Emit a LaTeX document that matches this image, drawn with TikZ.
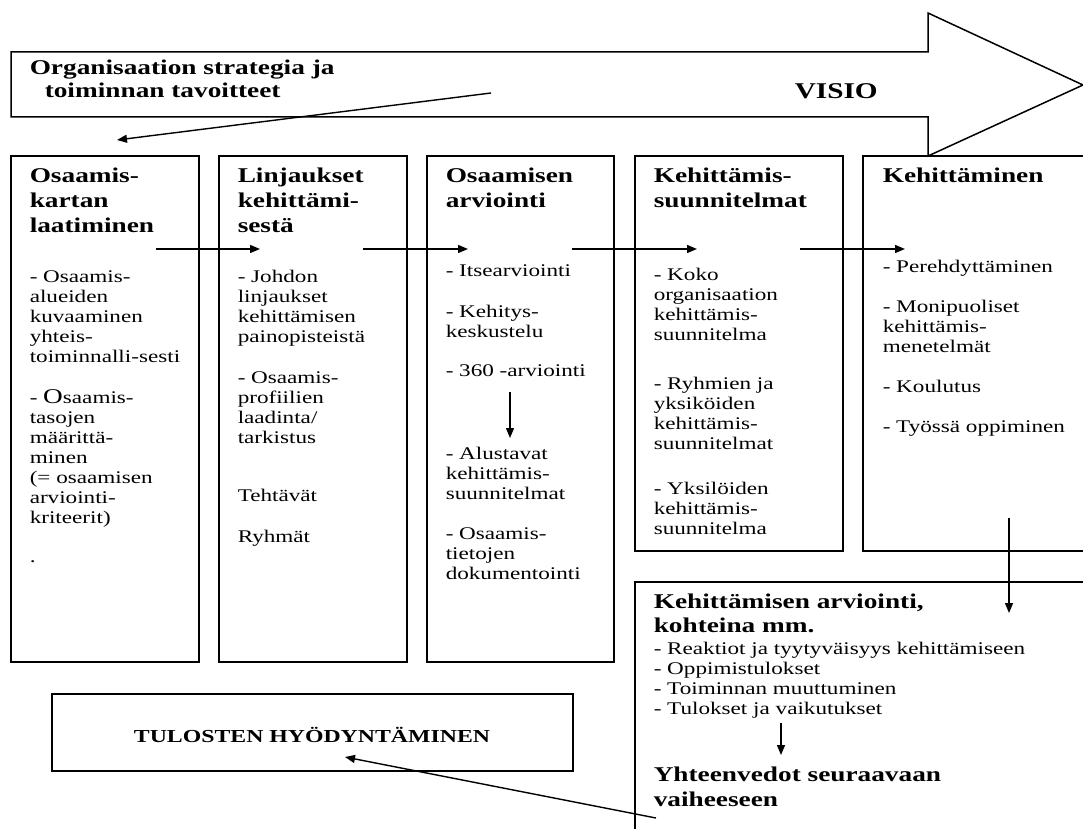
\documentclass[tikz,border=0pt]{standalone}
\usepackage{fontspec}
\setmainfont{Liberation Serif}[FakeStretch=1.3]
\usetikzlibrary{arrows.meta}
\newcommand\bodyf{\fontsize{17.8}{20}\selectfont}
\newcommand\headf{\fontsize{21}{25}\selectfont\bfseries}
\newcommand\headg{\fontsize{21}{24}\selectfont\bfseries}
\newcommand\fstrut{\rule{0pt}{15pt}}
\newcommand\hstrut{\rule{0pt}{20pt}}
\begin{document}
\begin{tikzpicture}[x=1pt,y=-1pt,line width=1.5pt,
  boxnode/.style={draw,anchor=north west,inner sep=0pt,outer sep=0pt},
  hd/.style={anchor=north west,inner sep=0pt,align=left,font=\headf},
  hdg/.style={anchor=north west,inner sep=0pt,align=left,font=\headg},
  bd/.style={anchor=north west,inner sep=0pt,align=left,font=\bodyf},
  arr/.style={-{Triangle[length=10pt,width=8pt]},line width=1.4pt}]
\useasboundingbox (0,0) rectangle (1083,829);
% big arrow VISIO
\draw (11,52) -- (928,52) -- (928,13) -- (1083,85) -- (928,156) -- (928,117) -- (11,117) -- cycle;
\node[anchor=base west,inner sep=0pt,font=\fontsize{21}{23}\selectfont\bfseries] (org1) at (29,75) {Organisaation strategia ja};
\node[anchor=base west,inner sep=0pt,font=\fontsize{21}{23}\selectfont\bfseries] (org2) at (44,98) {toiminnan tavoitteet};
\node[anchor=base west,inner sep=0pt,font=\fontsize{22.5}{25}\selectfont\bfseries] (visio) at (794,99) {VISIO};
% boxes
\node[boxnode,minimum width=188pt,minimum height=506pt] (box1) at (11,156) {};
\node[boxnode,minimum width=188pt,minimum height=506pt] (box2) at (219,156) {};
\node[boxnode,minimum width=187pt,minimum height=506pt] (box3) at (427,156) {};
\node[boxnode,minimum width=208pt,minimum height=395pt] (box4) at (635,156) {};
\draw (1083,156) -- (863,156) -- (863,551) -- (1083,551);
\draw (1083,582) -- (635,582) -- (635,829);
\node[boxnode,minimum width=521pt,minimum height=77pt] (tulbox) at (52,694) {};
% box 1
\node[hd] (t1) at (29,162) {\hstrut Osaamis-\\kartan\\laatiminen};
\node[bd] (b1a) at (29,267) {\fstrut- Osaamis-\\alueiden\\kuvaaminen\\yhteis-\\toiminnalli-sesti};
\node[bd] (b1b) at (29,388) {\fstrut- {\fontsize{21}{20}\selectfont O}saamis-\\tasojen\\määrittä-\\minen\\(= osaamisen\\arviointi-\\kriteerit)};
\node[bd] (b1c) at (29,547) {\fstrut.};
% box 2
\node[hd] (t2) at (237,162) {\hstrut Linjaukset\\kehittämi-\\sestä};
\node[bd] (b2a) at (237,267) {\fstrut- Johdon\\linjaukset\\kehittämisen\\painopisteistä};
\node[bd] (b2b) at (237,368) {\fstrut- Osaamis-\\profiilien\\laadinta/\\tarkistus};
\node[bd] (b2c) at (237,486) {\fstrut Tehtävät};
\node[bd] (b2d) at (237,527) {\fstrut Ryhmät};
% box 3
\node[hd] (t3) at (445,162) {\hstrut Osaamisen\\arviointi};
\node[bd] (b3a) at (445,261) {\fstrut- Itsearviointi};
\node[bd] (b3b) at (445,302) {\fstrut- Kehitys-\\keskustelu};
\node[bd] (b3c) at (445,361) {\fstrut- 360 -arviointi};
\node[bd] (b3d) at (445,444) {\fstrut- Alustavat\\kehittämis-\\suunnitelmat};
\node[bd] (b3e) at (445,524) {\fstrut- Osaamis-\\tietojen\\dokumentointi};
% box 4
\node[hd] (t4) at (653,162) {\hstrut Kehittämis-\\suunnitelmat};
\node[bd] (b4a) at (653,265) {\fstrut- Koko\\organisaation\\kehittämis-\\suunnitelma};
\node[bd] (b4b) at (653,374) {\fstrut- Ryhmien ja\\yksiköiden\\kehittämis-\\suunnitelmat};
\node[bd] (b4c) at (653,479) {\fstrut- Yksilöiden\\kehittämis-\\suunnitelma};
% box 5
\node[hd] (t5) at (882,162) {\hstrut Kehittäminen};
\node[bd] (b5a) at (882,257) {\fstrut- Perehdyttäminen};
\node[bd] (b5b) at (882,297) {\fstrut- Monipuoliset\\kehittämis-\\menetelmät};
\node[bd] (b5c) at (882,377) {\fstrut- Koulutus};
\node[bd] (b5d) at (882,417) {\fstrut- Työssä oppiminen};
% box 6
\node[hdg] (t6) at (653,588) {\hstrut Kehittämisen arviointi,\\kohteina mm.};
\node[bd] (b6) at (653,639) {\fstrut- Reaktiot ja tyytyväisyys kehittämiseen\\- Oppimistulokset\\- Toiminnan muuttuminen\\- Tulokset ja vaikutukset};
\node[hd] (t7) at (653,761) {\hstrut Yhteenvedot seuraavaan\\vaiheeseen};
% tulosten
\node[anchor=base,inner sep=0pt,font=\fontsize{18.3}{20}\selectfont\bfseries] (tul) at (312,742) {TULOSTEN HYÖDYNTÄMINEN};
% connector coordinates
\coordinate (s0) at (491,93);   \coordinate (s1) at (117,140);
\coordinate (h1a) at (156,249); \coordinate (h1b) at (260,249);
\coordinate (h2a) at (363,249); \coordinate (h2b) at (468,249);
\coordinate (h3a) at (572,249); \coordinate (h3b) at (697,249);
\coordinate (h4a) at (800,249); \coordinate (h4b) at (905,249);
\coordinate (v3a) at (510,392); \coordinate (v3b) at (510,438);
\coordinate (v5a) at (1009,518); \coordinate (v5b) at (1009,613);
\coordinate (v6a) at (781,723); \coordinate (v6b) at (781,755);
\coordinate (ra) at (656,818);  \coordinate (rb) at (345,757);
\draw[arr] (s0) -- (s1);
\draw[arr] (h1a) -- (h1b);
\draw[arr] (h2a) -- (h2b);
\draw[arr] (h3a) -- (h3b);
\draw[arr] (h4a) -- (h4b);
\draw[arr] (v3a) -- (v3b);
\draw[arr] (v5a) -- (v5b);
\draw[arr] (v6a) -- (v6b);
\draw[arr] (ra) -- (rb);
\end{tikzpicture}
\end{document}
